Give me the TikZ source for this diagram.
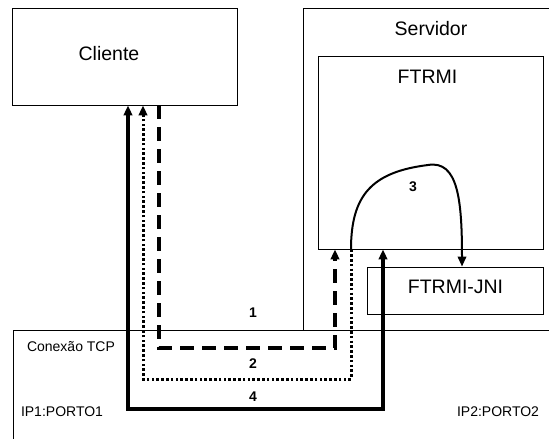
\documentclass[tikz,border=0pt]{standalone}
\usepackage{fontspec}
\setmainfont{Liberation Sans}
\usetikzlibrary{arrows.meta}
\tikzset{
  box/.style={draw, line width=0.9pt, inner sep=0pt},
  bigtxt/.style={font=\fontsize{19.5}{21}\selectfont, inner sep=0pt},
  smalltxt/.style={font=\fontsize{14}{16}\selectfont, inner sep=0pt},
  numtxt/.style={font=\bfseries\fontsize{14}{15}\selectfont, inner sep=0pt},
  tip/.style={-{Triangle[length=10pt,width=8.5pt]}},
  solidline/.style={line width=3.2pt},
  dashline/.style={line width=3.2pt, dash pattern=on 14pt off 8pt},
  dotline/.style={line width=3pt, dash pattern=on 2.6pt off 2.2pt},
  curveline/.style={line width=2pt}
}
\begin{document}
\begin{tikzpicture}[x=1pt,y=-1pt]
\useasboundingbox (0,0) rectangle (549,439);
\clip (0,0) rectangle (549,439);
\fill[white] (0,0) rectangle (549,439);
% boxes
\draw[line width=0.9pt] (303,330) -- (303,8) -- (560,8);
\node[box, minimum width=225pt, minimum height=97pt] (cli) at (124.5,56.5) {};
\node[box, minimum width=225pt, minimum height=193pt] (ftrmi) at (430.5,152.5) {};
\node[box, minimum width=176pt, minimum height=47pt] (jni) at (455,290.5) {};
\node[box, minimum width=560pt, minimum height=130pt, anchor=north west] (tcp) at (13,330) {};
% texts
\node[bigtxt] (tcli) at (109,54) {Cliente};
\node[bigtxt] (tserv) at (431,29) {Servidor};
\node[bigtxt] (tftrmi) at (427.5,77) {FTRMI};
\node[bigtxt] (tjni) at (455.5,287) {FTRMI-JNI};
\node[smalltxt] (ttcp) at (71,347) {Conexão TCP};
\node[smalltxt] (tip1) at (62,412) {IP1:PORTO1};
\node[smalltxt] (tip2) at (498,412) {IP2:PORTO2};
\node[numtxt] (n1) at (253,313) {1};
\node[numtxt] (n2) at (253,364) {2};
\node[numtxt] (n4) at (253,397) {4};
\node[numtxt] (n3) at (413,187) {3};
% connector 4 (solid)
\coordinate (s1) at (128,409);
\coordinate (s2) at (383,409);
\draw[solidline, {Triangle[length=10pt,width=8.5pt]}-{Triangle[length=10pt,width=8.5pt]}]
  (cli.south -| s1) -- (s1) -- (s2) -- (ftrmi.south -| s2);
% connector 1 (dashed)
\coordinate (d1) at (159,348);
\coordinate (d2) at (335,348);
\draw[dashline, tip] (cli.south -| d1) -- (d1) -- (d2) -- (ftrmi.south -| d2);
% connector 2 (dotted)
\coordinate (p1) at (351,379);
\coordinate (p2) at (143,379);
\draw[dotline, tip] (ftrmi.south -| p1) -- (p1) -- (p2) -- (cli.south -| p2);
% connector 3 (curve)
\coordinate (c0) at (351,249);
\coordinate (cpk) at (428,165);
\coordinate (c1) at (462,267);
\draw[curveline, tip] (ftrmi.south -| c0) .. controls (351,195) and (372,172) .. (cpk)
  .. controls (458,160) and (462,200) .. (jni.north -| c1);
\end{tikzpicture}
\end{document}
